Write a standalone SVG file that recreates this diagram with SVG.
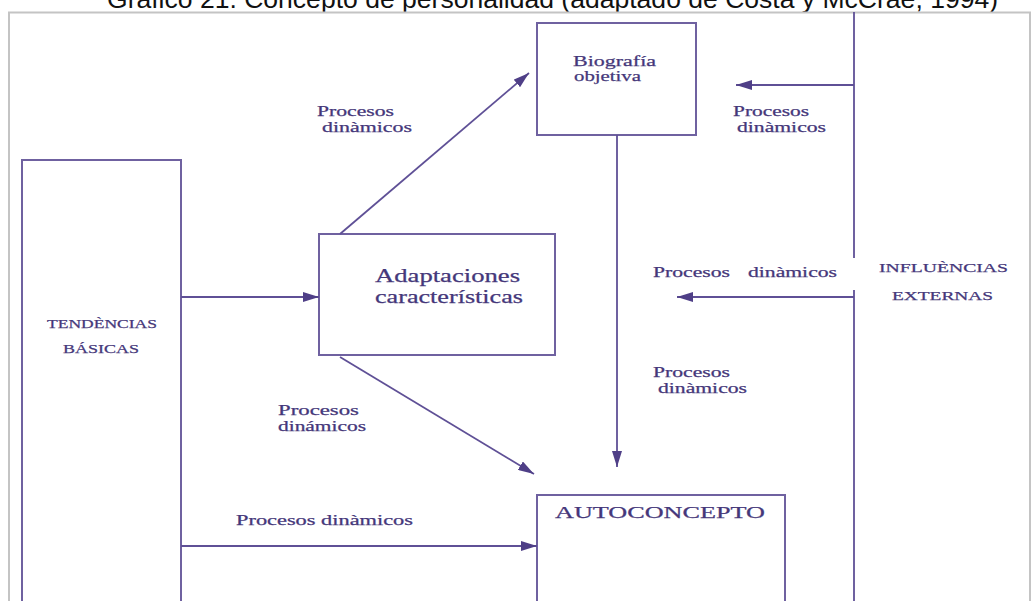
<svg xmlns="http://www.w3.org/2000/svg" width="1032" height="601" viewBox="0 0 1032 601">
<defs>
<marker id="ah" viewBox="0 0 16 10" refX="16" refY="5" markerWidth="16" markerHeight="10" markerUnits="userSpaceOnUse" orient="auto">
<path d="M0,0 L16,5 L0,10 z" fill="#4f3f87"/>
</marker>
</defs>
<style>
.box{fill:none;stroke:#6f61a0;stroke-width:2}
.ln{fill:none;stroke:#5f5096;stroke-width:1.8}
.arr{fill:none;stroke:#5f5096;stroke-width:1.8;marker-end:url(#ah)}
.t{font-family:"Liberation Serif","Times New Roman",serif;fill:#45377a;stroke:#45377a;stroke-width:0.25}
.s{font-size:14px}
.c{font-size:13.5px}
</style>
<rect width="1032" height="601" fill="#ffffff"/>
<text x="107" y="8" font-family="Liberation Sans, Arial, sans-serif" font-size="26" fill="#111111" textLength="891" lengthAdjust="spacingAndGlyphs">Gráfico 21. Concepto de personalidad (adaptado de Costa y McCrae, 1994)</text>
<rect x="9" y="12.5" width="1021" height="620" fill="none" stroke="#c4c4c4" stroke-width="2"/>

<g id="tendencias">
<rect class="box" x="22" y="160" width="159" height="470"/>
<text class="t c" x="47" y="328" textLength="110" lengthAdjust="spacingAndGlyphs">TENDÈNCIAS</text>
<text class="t c" x="63" y="353" textLength="76" lengthAdjust="spacingAndGlyphs">BÁSICAS</text>
</g>
<g id="adaptaciones">
<rect class="box" x="319" y="234" width="236" height="121"/>
<text class="t" x="375" y="282" font-size="19" textLength="145" lengthAdjust="spacingAndGlyphs">Adaptaciones</text>
<text class="t" x="375" y="303" font-size="19" textLength="148" lengthAdjust="spacingAndGlyphs">características</text>
</g>
<g id="biografia">
<rect class="box" x="537" y="23" width="159" height="112"/>
<text class="t" x="573" y="66" font-size="15" textLength="83" lengthAdjust="spacingAndGlyphs">Biografía</text>
<text class="t" x="574" y="81" font-size="15" textLength="67" lengthAdjust="spacingAndGlyphs">objetiva</text>
</g>
<g id="autoconcepto">
<rect class="box" x="537" y="495" width="248" height="140"/>
<text class="t" x="555" y="518" font-size="17" textLength="210" lengthAdjust="spacingAndGlyphs">AUTOCONCEPTO</text>
</g>
<g id="influencias">
<text class="t c" x="879" y="272" textLength="129" lengthAdjust="spacingAndGlyphs">INFLUÈNCIAS</text>
<text class="t c" x="892" y="300" textLength="101" lengthAdjust="spacingAndGlyphs">EXTERNAS</text>
</g>

<g id="connectors">
<line class="ln" x1="854" y1="12" x2="854" y2="258"/>
<line class="ln" x1="854" y1="290" x2="854" y2="601"/>
<line class="arr" x1="181" y1="297" x2="319" y2="297"/>
<line class="arr" x1="181" y1="546" x2="537" y2="546"/>
<line class="arr" x1="340" y1="234" x2="529" y2="73"/>
<line class="arr" x1="340" y1="357" x2="534" y2="474"/>
<line class="arr" x1="617" y1="135" x2="617" y2="467"/>
<line class="arr" x1="854" y1="85" x2="736" y2="85"/>
<line class="arr" x1="854" y1="297" x2="677" y2="297"/>
</g>

<g id="labels">
<text class="t s" x="317" y="116" textLength="77" lengthAdjust="spacingAndGlyphs">Procesos</text>
<text class="t s" x="322" y="132" textLength="90" lengthAdjust="spacingAndGlyphs">dinàmicos</text>
<text class="t s" x="733" y="116" textLength="76" lengthAdjust="spacingAndGlyphs">Procesos</text>
<text class="t s" x="737" y="132" textLength="89" lengthAdjust="spacingAndGlyphs">dinàmicos</text>
<text class="t s" x="653" y="277" textLength="77" lengthAdjust="spacingAndGlyphs">Procesos</text>
<text class="t s" x="748" y="277" textLength="89" lengthAdjust="spacingAndGlyphs">dinàmicos</text>
<text class="t s" x="653" y="377" textLength="77" lengthAdjust="spacingAndGlyphs">Procesos</text>
<text class="t s" x="658" y="393" textLength="89" lengthAdjust="spacingAndGlyphs">dinàmicos</text>
<text class="t s" x="278" y="415" textLength="81" lengthAdjust="spacingAndGlyphs">Procesos</text>
<text class="t s" x="278" y="431" textLength="88" lengthAdjust="spacingAndGlyphs">dinámicos</text>
<text class="t s" x="236" y="525" textLength="177" lengthAdjust="spacingAndGlyphs">Procesos dinàmicos</text>
</g>
</svg>
